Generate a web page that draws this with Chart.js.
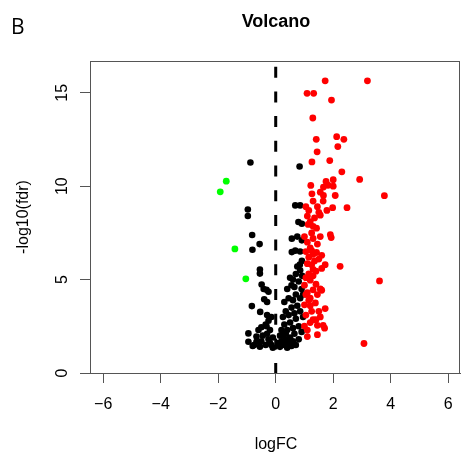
<!DOCTYPE html>
<html><head><meta charset="utf-8">
<script src="https://cdn.jsdelivr.net/npm/chart.js@4.4.1/dist/chart.umd.min.js"></script>
<style>html,body{margin:0;padding:0;background:#fff}#wrap{width:461px;height:452px;position:relative}</style>
</head><body><div id="wrap"><canvas id="c" width="461" height="452"></canvas></div>
<script>
const xTicks = [-6, -4, -2, 0, 2, 4, 6];
const yTicks = [0, 5, 10, 15];
const xRange = [-6.46, 6.41];
const yRange = [0, 16.7];
const cutoffX = 0;

// upregulated (red)
const upPoints = [
[1.72,15.64],[3.19,15.64],[1.09,14.97],[1.32,14.97],[1.94,14.61],[1.29,13.65],
[1.41,12.51],[2.12,12.65],[2.37,12.51],[2.16,12.12],[1.44,11.84],[1.26,11.30],[1.88,11.37],
[2.30,10.77],[2.92,10.36],[1.22,10.04],[1.75,10.25],[1.82,10.05],[1.66,9.95],[2.0,10.35],[2.0,10.0],
[1.26,9.59],[1.55,9.68],[1.66,9.5],[2.07,9.5],[3.78,9.49],[1.3,9.2],[1.65,9.2],[1.45,8.9],[1.5,8.6],[1.78,8.7],[1.98,8.85],[2.48,8.85],[1.55,8.45],[1.05,8.9],[1.15,8.7],[1.1,8.4],[1.2,8.1],[1.35,8.3],
[1.13,7.95],[1.3,7.85],[1.42,7.75],[1.0,7.3],[1.3,7.2],[1.55,7.3],[1.9,7.4],[1.93,7.25],[1.25,7.5],[1.1,7.0],[1.45,6.9],
[1.2,6.7],[1.25,6.55],[1.42,6.45],[1.6,6.3],[1.15,6.2],[1.35,6.0],[1.05,6.5],[1.3,6.35],[1.5,6.1],
[1.1,5.85],[1.25,5.8],[1.72,5.8],[1.3,5.55],[1.4,5.45],[1.6,5.6],[2.24,5.71],[1.15,5.3],[1.05,5.1],[1.3,5.2],
[1.2,4.97],[3.61,4.93],[1.6,4.43],[1.0,4.7],[1.4,4.75],
[1.05,4.2],[1.2,4.0],[1.45,4.2],[1.1,4.3],[1.3,4.45],[1.55,4.5],[1.15,3.9],
[1.0,3.65],[1.2,3.6],[1.38,3.75],[1.72,3.45],[1.5,3.3],[1.25,3.3],[1.05,3.1],[1.55,3.0],
[1.3,2.85],[1.4,2.85],[1.2,2.7],[1.45,2.55],[1.65,2.55],[1.0,2.51],[1.7,2.4],[1.1,2.3],[1.1,1.95],[1.45,2.05],[3.07,1.58]
];

// downregulated (green)
const downPoints = [[-1.72,10.27],[-1.93,9.70],[-1.42,6.64],[-1.04,5.04]];

// not significant (black)
const nsPoints = [
[-0.88,11.27],[-0.97,8.75],[-0.97,8.40],[-0.82,7.39],[-0.56,6.90],[-0.81,6.60],[-0.55,5.54],[-0.55,5.32],
[-0.49,4.74],[-0.42,4.5],[-0.32,4.45],[-0.25,4.35],[-0.4,3.95],[-0.3,3.8],[-0.83,3.58],[-0.54,3.27],
[-0.5,2.45],[-0.32,2.5],[-0.95,2.12],[-0.95,1.67],[-0.67,1.95],[-0.67,1.67],[-0.55,1.41],[-0.3,2.1],
[-0.25,1.8],[-0.2,1.6],[-0.3,3.1],[-0.25,2.8],[-0.45,2.0],[-0.35,1.5],[-0.75,1.5],
[-0.15,1.5],[-0.1,1.9],[-0.2,2.3],[-0.15,3.0],[-0.5,1.7],[-0.8,1.45],[-0.1,1.35],[-0.6,2.3],[-0.35,2.6],
[0.83,11.05],[0.68,8.97],[0.85,8.97],[0.79,8.08],[0.91,7.99],[0.56,7.19],[0.91,7.1],[0.75,7.3],
[0.56,6.47],[0.68,6.55],[0.85,6.5],[0.91,6.0],[0.84,5.8],[0.75,5.7],
[0.15,1.4],[0.2,1.7],[0.25,2.0],[0.3,1.5],[0.35,1.8],[0.4,1.35],[0.45,1.6],[0.5,1.9],[0.55,1.45],[0.6,1.7],
[0.65,2.1],[0.7,1.5],[0.8,1.8],[0.2,2.3],[0.3,2.6],[0.4,2.3],[0.5,2.7],[0.6,2.4],[0.7,2.9],[0.8,2.5],
[0.9,2.2],[0.25,3.0],[0.35,3.3],[0.45,3.1],[0.55,3.5],[0.65,3.2],[0.75,3.6],[0.85,3.3],[0.3,3.8],[0.45,4.0],
[0.6,3.9],[0.7,4.2],[0.85,4.0],[0.4,4.5],[0.55,4.7],[0.65,4.6],[0.8,4.9],[0.9,4.5],[0.5,5.1],[0.7,5.3],
[0.85,5.5],[0.6,5.0],[0.92,5.2],[0.15,2.0],[0.1,1.6],[0.35,2.1],[0.95,3.0],[0.95,4.2]
];

const toXY = a => a.map(p => ({x: p[0], y: p[1]}));
const fmt = v => (v < 0 ? '\u2212' + Math.abs(v) : String(v));
const FONT = '"Liberation Sans", Arial, sans-serif';

const decor = {
  id: 'decor',
  afterDraw(chart) {
    const {ctx, chartArea: a, scales} = chart;
    ctx.save();
    ctx.strokeStyle = '#555';
    ctx.lineWidth = 1;
    ctx.strokeRect(Math.round(a.left) + 0.5, Math.round(a.top) + 0.5, Math.round(a.right - a.left) - 1, Math.round(a.bottom - a.top));
    ctx.fillStyle = '#000';
    // y tick labels, rotated
    ctx.font = '16px ' + FONT;
    ctx.textAlign = 'center';
    ctx.textBaseline = 'alphabetic';
    yTicks.forEach(v => {
      const py = scales.y.getPixelForValue(v);
      ctx.save();
      ctx.translate(67, py);
      ctx.rotate(-Math.PI / 2);
      ctx.fillText(fmt(v), 0, 0);
      ctx.restore();
    });
    // title
    ctx.font = 'bold 18px ' + FONT;
    ctx.fillText('Volcano', 276, 27);
    ctx.font = '21px "Open Sans", sans-serif';
    ctx.textAlign = 'left';
    ctx.fillText('B', 11, 34);
    // axis titles
    ctx.font = '16px ' + FONT;
    ctx.textAlign = 'center';
    ctx.fillText('logFC', 276, 449);
    ctx.save();
    ctx.translate(28, 217);
    ctx.rotate(-Math.PI / 2);
    ctx.fillText('-log10(fdr)', 0, 0);
    ctx.restore();
    ctx.restore();
  }
};

const noPad = s => { s.paddingLeft = 0; s.paddingRight = 0; s.paddingTop = 0; s.paddingBottom = 0; };

new Chart(document.getElementById('c'), {
  type: 'scatter',
  data: {
    datasets: [
      {
        label: 'cutoff',
        data: [{x: cutoffX, y: yRange[1]}, {x: cutoffX, y: yRange[0]}],
        showLine: true,
        borderColor: '#000',
        borderWidth: 3,
        borderDash: [11, 13.7],
        borderDashOffset: 19,
        pointRadius: 0,
        tension: 0
      },
      {label: 'down', data: toXY(downPoints), backgroundColor: '#00ff00', borderWidth: 0, pointRadius: 3.4},
      {label: 'up', data: toXY(upPoints), backgroundColor: '#ff0000', borderWidth: 0, pointRadius: 3.4},
      {label: 'ns', data: toXY(nsPoints), backgroundColor: '#000000', borderWidth: 0, pointRadius: 3.3}
    ]
  },
  options: {
    responsive: false,
    animation: false,
    devicePixelRatio: 1,
    layout: {autoPadding: false, padding: {left: 0, right: 1, top: 61, bottom: 0}},
    plugins: {legend: {display: false}, tooltip: {enabled: false}, title: {display: false}},
    scales: {
      x: {
        type: 'linear', min: xRange[0], max: xRange[1],
        afterBuildTicks: s => { s.ticks = xTicks.map(v => ({value: v})); },
        afterFit: s => { s.height = 79; noPad(s); },
        ticks: {color: '#000', font: {size: 16, family: FONT}, padding: 12, maxRotation: 0, autoSkip: false, callback: v => fmt(v)},
        grid: {display: true, drawOnChartArea: false, drawTicks: true, tickLength: 10, color: '#555'},
        border: {display: true, color: '#555'}
      },
      y: {
        type: 'linear', min: yRange[0], max: yRange[1],
        afterBuildTicks: s => { s.ticks = yTicks.map(v => ({value: v})); },
        afterFit: s => { s.width = 90; noPad(s); },
        ticks: {display: false},
        grid: {display: true, drawOnChartArea: false, drawTicks: true, tickLength: 10, color: '#555'},
        border: {display: true, color: '#555'}
      }
    }
  },
  plugins: [decor]
});
</script></body></html>
